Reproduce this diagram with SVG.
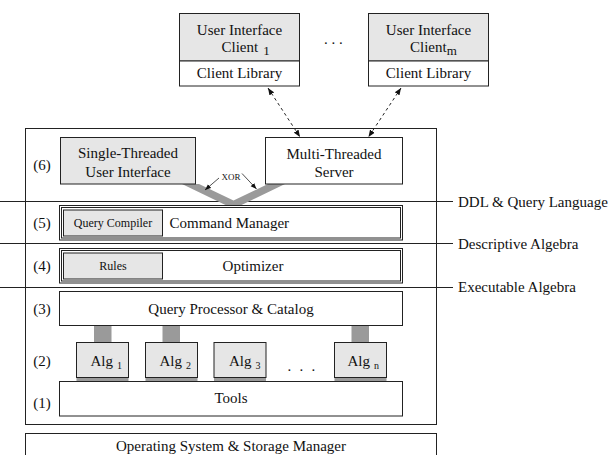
<svg xmlns="http://www.w3.org/2000/svg" width="614" height="455" viewBox="0 0 614 455">
<style>
.box{fill:#fff;stroke:#222;stroke-width:1}
.gbox{fill:#e6e6e6;stroke:#222;stroke-width:1}
.dk{fill:#9a9a9a;stroke:none}
.t{font-family:"Liberation Serif","Times New Roman",serif;font-size:15px;fill:#111}
.s{font-family:"Liberation Serif","Times New Roman",serif;font-size:12px;fill:#111}
.c{text-anchor:middle}
.ln{stroke:#222;stroke-width:1;fill:none}
.dash{stroke:#222;stroke-width:1;stroke-dasharray:3 3;fill:none;marker-start:url(#ah);marker-end:url(#ah)}
.xa{stroke:#222;stroke-width:0.8;fill:none;marker-end:url(#ah2)}
</style>
<defs>
<marker id="ah" viewBox="0 0 10 10" refX="10" refY="5" markerWidth="7" markerHeight="7" markerUnits="userSpaceOnUse" orient="auto-start-reverse">
<path d="M0,1 L10,5 L0,9 z" fill="#111"/>
</marker>
<marker id="ah2" viewBox="0 0 10 10" refX="10" refY="5" markerWidth="6" markerHeight="6" markerUnits="userSpaceOnUse" orient="auto">
<path d="M0,1 L10,5 L0,9 z" fill="#111"/>
</marker>
</defs>

<g id="layer-lines">
<line class="ln" x1="0" y1="201.5" x2="453" y2="201.5"/>
<line class="ln" x1="0" y1="243.5" x2="453" y2="243.5"/>
<line class="ln" x1="0" y1="287.5" x2="453" y2="287.5"/>
<text class="t" x="458" y="206.5">DDL &amp; Query Language</text>
<text class="t" x="458" y="248.5">Descriptive Algebra</text>
<text class="t" x="458" y="292">Executable Algebra</text>
</g>

<g id="outer">
<rect class="box" x="25.5" y="128.5" width="411" height="296" style="fill:none"/>
</g>

<g id="connectors">
<polygon class="dk" points="182,184 199,184 233.5,200.5 268,184 285,184 240.5,205.5 226.5,205.5"/>
<line class="dash" x1="268" y1="88" x2="300" y2="137"/>
<line class="dash" x1="401" y1="88" x2="368.5" y2="137"/>
<line class="xa" x1="219" y1="178" x2="205" y2="190"/>
<line class="xa" x1="242" y1="173.5" x2="256.5" y2="189"/>
<text x="231" y="180" class="c" style="font-family:'Liberation Serif','Times New Roman',serif;font-size:9px;fill:#111">XOR</text>
<rect class="dk" x="94" y="325.5" width="17.5" height="17"/>
<rect class="dk" x="162.5" y="325.5" width="17.5" height="17"/>
<rect class="dk" x="351.5" y="325.5" width="17.5" height="17"/>
<rect class="dk" x="76.5" y="377.5" width="52" height="4"/>
<rect class="dk" x="145.5" y="377.5" width="52" height="4"/>
<rect class="dk" x="214" y="377.5" width="52" height="4"/>
<rect class="dk" x="334.5" y="377.5" width="52" height="4"/>
</g>

<g id="client1">
<rect class="gbox" x="179.5" y="13.5" width="120" height="47.5"/>
<rect class="box" x="179.5" y="61" width="120" height="25"/>
<text class="t c" x="239.5" y="35">User Interface</text>
<text class="t" x="221.5" y="51.5">Client<tspan dx="5" dy="3.5" font-size="13">1</tspan></text>
<text class="t c" x="239.5" y="78">Client Library</text>
</g>

<g id="dots-top">
<text class="t" x="324" y="43.5">. . .</text>
</g>

<g id="clientm">
<rect class="gbox" x="368.5" y="13.5" width="120" height="47.5"/>
<rect class="box" x="368.5" y="61" width="120" height="25"/>
<text class="t c" x="428.5" y="35">User Interface</text>
<text class="t" x="410" y="51.5">Client<tspan dy="3.5" font-size="13">m</tspan></text>
<text class="t c" x="428.5" y="78">Client Library</text>
</g>

<g id="layer6">
<text class="t c" x="42" y="170">(6)</text>
<g id="single-ui">
<rect class="gbox" x="60.5" y="137.5" width="135" height="46.5"/>
<text class="t c" x="128" y="158">Single-Threaded</text>
<text class="t c" x="128" y="176.5">User Interface</text>
</g>
<g id="multi-server">
<rect class="box" x="265.5" y="137.5" width="137" height="46.5"/>
<text class="t c" x="334" y="159">Multi-Threaded</text>
<text class="t c" x="334" y="176.5">Server</text>
</g>
</g>

<g id="layer5">
<text class="t c" x="42" y="228">(5)</text>
<rect class="box" x="59.5" y="205.5" width="343" height="34.5"/>
<rect class="box" x="61.5" y="207.5" width="339" height="30.5"/>
<rect class="gbox" x="63.5" y="210" width="99" height="26"/>
<text class="s c" x="113" y="227">Query Compiler</text>
<text class="t" x="169.5" y="228">Command Manager</text>
</g>

<g id="layer4">
<text class="t c" x="42" y="270.5">(4)</text>
<rect class="box" x="59.5" y="248.5" width="343" height="34.5"/>
<rect class="box" x="61.5" y="250.5" width="339" height="30.5"/>
<rect class="gbox" x="63.5" y="253" width="99" height="26"/>
<text class="s c" x="113" y="270">Rules</text>
<text class="t c" x="253" y="270.5">Optimizer</text>
</g>

<g id="layer3">
<text class="t c" x="42" y="313.5">(3)</text>
<rect class="box" x="59.5" y="291.5" width="343" height="34"/>
<text class="t c" x="231" y="313.5">Query Processor &amp; Catalog</text>
</g>

<g id="layer2">
<text class="t c" x="42" y="366">(2)</text>
<g id="alg1">
<rect class="gbox" x="76.5" y="342.5" width="52" height="35"/>
<text class="t" x="90.5" y="366">Alg<tspan dx="4" dy="2.5" font-size="10">1</tspan></text>
</g>
<g id="alg2">
<rect class="gbox" x="145.5" y="342.5" width="52" height="35"/>
<text class="t" x="159.5" y="366">Alg<tspan dx="4" dy="2.5" font-size="10">2</tspan></text>
</g>
<g id="alg3">
<rect class="gbox" x="214" y="342.5" width="52" height="35"/>
<text class="t" x="229" y="366">Alg<tspan dx="4" dy="2.5" font-size="10">3</tspan></text>
</g>
<text class="t" x="287.5" y="371" style="letter-spacing:2.25px">. . .</text>
<g id="algn">
<rect class="gbox" x="334.5" y="342.5" width="52" height="35"/>
<text class="t" x="347.5" y="366">Alg<tspan dx="4" dy="2.5" font-size="10">n</tspan></text>
</g>
</g>

<g id="layer1">
<text class="t c" x="42" y="408">(1)</text>
<rect class="box" x="59.5" y="381.5" width="343" height="34.5"/>
<text class="t c" x="231" y="403">Tools</text>
</g>

<g id="os">
<rect class="box" x="25.5" y="433.5" width="411" height="30"/>
<text class="t c" x="231" y="450.5">Operating System &amp; Storage Manager</text>
</g>
</svg>
